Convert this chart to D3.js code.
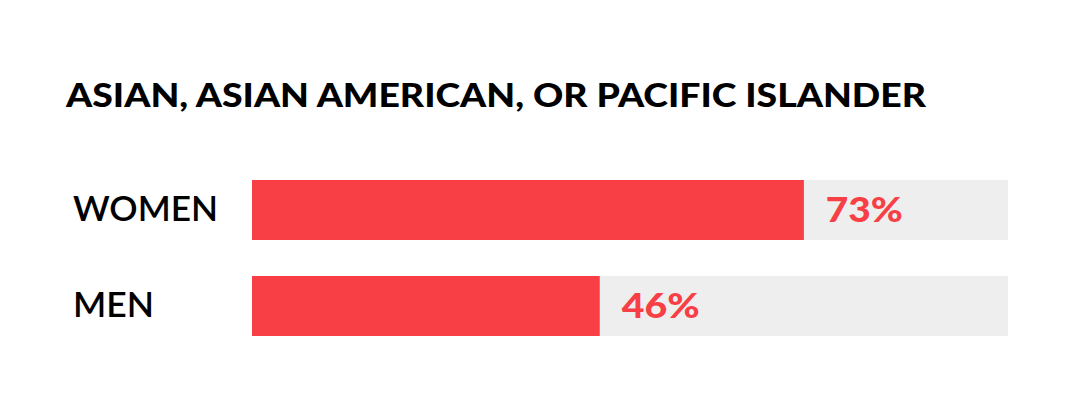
<!DOCTYPE html>
<html>
<head>
<meta charset="utf-8">
<script src="https://cdn.jsdelivr.net/npm/d3@7"></script>
<style>
  html, body { margin: 0; padding: 0; background: #fff; }
  svg { display: block; }
  text { font-family: Lato, "Open Sans", sans-serif; }
</style>
</head>
<body>
<svg id="chart" width="1080" height="405"></svg>
<script>
const title = "ASIAN, ASIAN AMERICAN, OR PACIFIC ISLANDER";
const categories = ["WOMEN", "MEN"];
const values = [73, 46];
const valueLabels = ["73%", "46%"];

const svg = d3.select("#chart");
const red = "#F83F45", track = "#EEEEEE";

const x = d3.scaleLinear().domain([0, 100]).range([252, 1008]);
const y = d3.scaleBand().domain(categories).range([180, 336]).paddingInner(0.375).paddingOuter(0);

svg.append("text")
  .attr("x", 66).attr("y", 107)
  .attr("font-size", 33).attr("font-weight", 900)
  .attr("fill", "#000")
  .attr("textLength", 860).attr("lengthAdjust", "spacingAndGlyphs")
  .text(title);

const catWidths = {"WOMEN": 145, "MEN": 81};
const valWidths = [77, 78];

const rows = svg.append("g").selectAll("g.row").data(categories).join("g").attr("class", "row");

rows.append("rect")
  .attr("x", x(0)).attr("y", d => y(d))
  .attr("width", x(100) - x(0)).attr("height", y.bandwidth())
  .attr("fill", track);

rows.append("rect")
  .attr("x", x(0)).attr("y", d => y(d))
  .attr("width", (d, i) => x(values[i]) - x(0)).attr("height", y.bandwidth())
  .attr("fill", red);

rows.append("text")
  .attr("x", 73).attr("y", d => y(d) + y.bandwidth() / 2 + 11)
  .attr("font-size", 34).attr("font-weight", 600).attr("fill", "#000")
  .attr("textLength", d => catWidths[d]).attr("lengthAdjust", "spacingAndGlyphs")
  .text(d => d);

rows.append("text")
  .attr("x", (d, i) => x(values[i]) + 22).attr("y", d => y(d) + y.bandwidth() / 2 + 11.5)
  .attr("font-size", 35).attr("font-weight", 900).attr("fill", red)
  .attr("textLength", (d, i) => valWidths[i]).attr("lengthAdjust", "spacingAndGlyphs")
  .text((d, i) => valueLabels[i]);
</script>
</body>
</html>
